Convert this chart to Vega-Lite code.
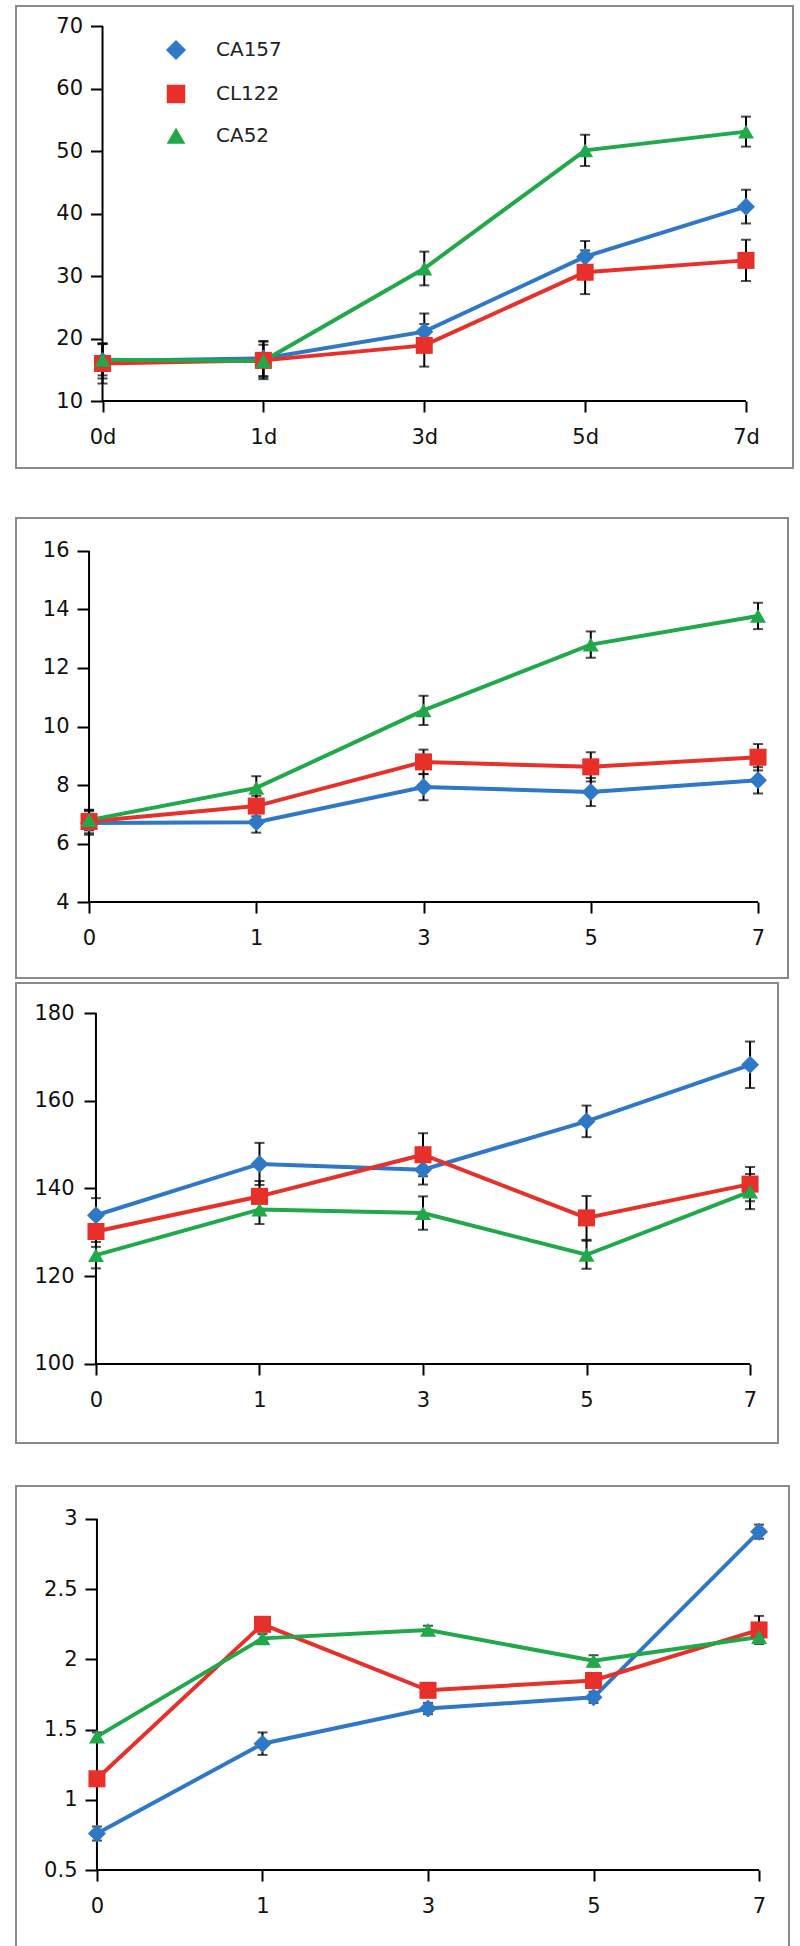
{
  "$schema": "https://vega.github.io/schema/vega-lite/v6.json",
  "padding": {"left": 15, "top": 5, "right": 0, "bottom": 0},
  "background": "white",
  "config": {
    "view": {"stroke": "#8a8a8a", "strokeWidth": 2},
    "font": "DejaVu Sans",
    "axis": {"domain": false, "grid": false, "tickColor": "#000", "tickWidth": 2, "labelFont": "DejaVu Sans", "labelFontSize": 21, "labelColor": "#111", "title": null}
  },
  "datasets": {
    "p1": [
      {"day": "0", "series": "CA157", "value": 16.4, "err": 2.8},
      {"day": "1", "series": "CA157", "value": 16.8, "err": 2.8},
      {"day": "3", "series": "CA157", "value": 21.1, "err": 2.9},
      {"day": "5", "series": "CA157", "value": 33.1, "err": 2.5},
      {"day": "7", "series": "CA157", "value": 41.1, "err": 2.7},
      {"day": "0", "series": "CL122", "value": 16.0, "err": 3.2},
      {"day": "1", "series": "CL122", "value": 16.5, "err": 3.0},
      {"day": "3", "series": "CL122", "value": 18.9, "err": 3.4},
      {"day": "5", "series": "CL122", "value": 30.6, "err": 3.5},
      {"day": "7", "series": "CL122", "value": 32.5, "err": 3.3},
      {"day": "0", "series": "CA52", "value": 16.6, "err": 2.5},
      {"day": "1", "series": "CA52", "value": 16.4, "err": 2.6},
      {"day": "3", "series": "CA52", "value": 31.2, "err": 2.7},
      {"day": "5", "series": "CA52", "value": 50.1, "err": 2.5},
      {"day": "7", "series": "CA52", "value": 53.1, "err": 2.4}
    ],
    "p2": [
      {"day": "0", "series": "CA157", "value": 6.7, "err": 0.4},
      {"day": "1", "series": "CA157", "value": 6.73, "err": 0.36},
      {"day": "3", "series": "CA157", "value": 7.93, "err": 0.45},
      {"day": "5", "series": "CA157", "value": 7.76, "err": 0.48},
      {"day": "7", "series": "CA157", "value": 8.16, "err": 0.45},
      {"day": "0", "series": "CL122", "value": 6.75, "err": 0.4},
      {"day": "1", "series": "CL122", "value": 7.28, "err": 0.35},
      {"day": "3", "series": "CL122", "value": 8.79, "err": 0.42},
      {"day": "5", "series": "CL122", "value": 8.62, "err": 0.5},
      {"day": "7", "series": "CL122", "value": 8.95, "err": 0.45},
      {"day": "0", "series": "CA52", "value": 6.8, "err": 0.35},
      {"day": "1", "series": "CA52", "value": 7.9, "err": 0.4},
      {"day": "3", "series": "CA52", "value": 10.55, "err": 0.5},
      {"day": "5", "series": "CA52", "value": 12.8, "err": 0.45},
      {"day": "7", "series": "CA52", "value": 13.78, "err": 0.45}
    ],
    "p3": [
      {"day": "0", "series": "CA157", "value": 133.9, "err": 3.9},
      {"day": "1", "series": "CA157", "value": 145.6, "err": 4.8},
      {"day": "3", "series": "CA157", "value": 144.3, "err": 3.4},
      {"day": "5", "series": "CA157", "value": 155.3, "err": 3.6},
      {"day": "7", "series": "CA157", "value": 168.2, "err": 5.3},
      {"day": "0", "series": "CL122", "value": 130.2, "err": 3.5},
      {"day": "1", "series": "CL122", "value": 138.2, "err": 3.5},
      {"day": "3", "series": "CL122", "value": 147.7, "err": 4.9},
      {"day": "5", "series": "CL122", "value": 133.3, "err": 5.0},
      {"day": "7", "series": "CL122", "value": 141.0, "err": 3.9},
      {"day": "0", "series": "CA52", "value": 124.8, "err": 3.0},
      {"day": "1", "series": "CA52", "value": 135.2, "err": 3.3},
      {"day": "3", "series": "CA52", "value": 134.4, "err": 3.8},
      {"day": "5", "series": "CA52", "value": 124.9, "err": 3.2},
      {"day": "7", "series": "CA52", "value": 139.3, "err": 4.0}
    ],
    "p4": [
      {"day": "0", "series": "CA157", "value": 0.76, "err": 0.05},
      {"day": "1", "series": "CA157", "value": 1.40, "err": 0.08},
      {"day": "3", "series": "CA157", "value": 1.65, "err": 0.04},
      {"day": "5", "series": "CA157", "value": 1.73, "err": 0.04},
      {"day": "7", "series": "CA157", "value": 2.91, "err": 0.05},
      {"day": "0", "series": "CL122", "value": 1.15, "err": 0.03},
      {"day": "1", "series": "CL122", "value": 2.25, "err": 0.05},
      {"day": "3", "series": "CL122", "value": 1.78, "err": 0.03},
      {"day": "5", "series": "CL122", "value": 1.85, "err": 0.03},
      {"day": "7", "series": "CL122", "value": 2.21, "err": 0.1},
      {"day": "0", "series": "CA52", "value": 1.45, "err": 0.03},
      {"day": "1", "series": "CA52", "value": 2.15, "err": 0.03},
      {"day": "3", "series": "CA52", "value": 2.21, "err": 0.03},
      {"day": "5", "series": "CA52", "value": 1.99, "err": 0.04},
      {"day": "7", "series": "CA52", "value": 2.16, "err": 0.03}
    ],
    "ax1": [{"day": "0", "day2": "7", "value": 10, "value2": 70}],
    "ax2": [{"day": "0", "day2": "7", "value": 4, "value2": 16}],
    "ax3": [{"day": "0", "day2": "7", "value": 100, "value2": 180}],
    "ax4": [{"day": "0", "day2": "7", "value": 0.5, "value2": 3}]
  },
  "spacing": 48,
  "resolve": {"scale": {"x": "independent", "y": "independent", "color": "independent", "shape": "independent", "size": "independent"}, "legend": {"color": "independent", "shape": "independent", "size": "independent"}},
  "vconcat": [
    {
      "width": 777, "height": 462,
      "encoding": {
        "x": {"field": "day", "type": "ordinal", "scale": {"type": "point", "domain": ["0", "1", "3", "5", "7"], "padding": 0.415, "align": 0.648}, "axis": {"title": null, "offset": -67, "tickSize": 11, "labelPadding": 14, "labelAngle": 0, "labelExpr": "datum.label + 'd'"}},
        "y": {"field": "value", "type": "quantitative", "scale": {"domain": [-0.72, 73.2], "nice": false, "zero": false}, "axis": {"title": null, "offset": -86.5, "values": [10, 20, 30, 40, 50, 60, 70], "tickSize": 12, "labelPadding": 8, "format": "~f"}}
      },
      "layer": [
        {"data": {"name": "ax1"}, "mark": {"type": "rule", "color": "#000", "strokeWidth": 2}, "encoding": {"y2": {"field": "value2"}}},
        {"data": {"name": "ax1"}, "mark": {"type": "rule", "color": "#000", "strokeWidth": 2}, "encoding": {"x2": {"field": "day2"}}},
        {"data": {"name": "p1"}, "mark": {"type": "errorbar", "color": "#000", "ticks": {"size": 10, "thickness": 2, "color": "#000"}, "rule": {"strokeWidth": 2, "color": "#000"}}, "encoding": {"yError": {"field": "err"}, "detail": {"field": "series"}}},
        {"data": {"name": "p1"}, "mark": {"type": "line", "strokeWidth": 4}, "encoding": {
          "color": {"field": "series", "type": "nominal", "scale": {"domain": ["CA157", "CL122", "CA52"], "range": ["#2F78C5", "#E8302B", "#20A84A"]},
            "legend": {"orient": "none", "legendX": 150, "legendY": 34, "title": null, "padding": 0, "labelFont": "DejaVu Sans", "labelFontSize": 20, "labelColor": "#222", "labelOffset": 30, "rowPadding": 20}}
        }},
        {"data": {"name": "p1"}, "mark": {"type": "point", "filled": true, "opacity": 1}, "encoding": {
          "color": {"field": "series", "type": "nominal", "scale": {"domain": ["CA157", "CL122", "CA52"], "range": ["#2F78C5", "#E8302B", "#20A84A"]}, "legend": null},
          "shape": {"field": "series", "type": "nominal", "scale": {"domain": ["CA157", "CL122", "CA52"], "range": ["diamond", "square", "triangle-up"]}, "legend": null},
          "size": {"field": "series", "type": "nominal", "scale": {"domain": ["CA157", "CL122", "CA52"], "range": [324, 256, 400]}, "legend": null}
        }}
      ]
    },
    {
      "spacing": 41,
      "resolve": {"scale": {"x": "independent", "y": "independent", "color": "independent", "shape": "independent", "size": "independent"}, "legend": {"color": "independent", "shape": "independent", "size": "independent"}},
      "vconcat": [
        {
          "spacing": 3,
          "resolve": {"scale": {"x": "independent", "y": "independent", "color": "independent", "shape": "independent", "size": "independent"}, "legend": {"color": "independent", "shape": "independent", "size": "independent"}},
          "vconcat": [
            {
              "width": 772, "height": 460,
              "encoding": {
                "x": {"field": "day", "type": "ordinal", "scale": {"type": "point", "domain": ["0", "1", "3", "5", "7"], "padding": 0.308, "align": 0.709}, "axis": {"title": null, "offset": -76, "tickSize": 11, "labelPadding": 14, "labelAngle": 0}},
                "y": {"field": "value", "type": "quantitative", "scale": {"domain": [1.402, 17.128], "nice": false, "zero": false}, "axis": {"title": null, "offset": -73, "values": [4, 6, 8, 10, 12, 14, 16], "tickSize": 12, "labelPadding": 8, "format": "~f"}}
              },
              "layer": [
                {"data": {"name": "ax2"}, "mark": {"type": "rule", "color": "#000", "strokeWidth": 2}, "encoding": {"y2": {"field": "value2"}}},
                {"data": {"name": "ax2"}, "mark": {"type": "rule", "color": "#000", "strokeWidth": 2}, "encoding": {"x2": {"field": "day2"}}},
                {"data": {"name": "p2"}, "mark": {"type": "errorbar", "color": "#000", "ticks": {"size": 10, "thickness": 2, "color": "#000"}, "rule": {"strokeWidth": 2, "color": "#000"}}, "encoding": {"yError": {"field": "err"}, "detail": {"field": "series"}}},
                {"data": {"name": "p2"}, "mark": {"type": "line", "strokeWidth": 4}, "encoding": {"color": {"field": "series", "type": "nominal", "scale": {"domain": ["CA157", "CL122", "CA52"], "range": ["#2F78C5", "#E8302B", "#20A84A"]}, "legend": null}}},
                {"data": {"name": "p2"}, "mark": {"type": "point", "filled": true, "opacity": 1}, "encoding": {
                  "color": {"field": "series", "type": "nominal", "scale": {"domain": ["CA157", "CL122", "CA52"], "range": ["#2F78C5", "#E8302B", "#20A84A"]}, "legend": null},
                  "shape": {"field": "series", "type": "nominal", "scale": {"domain": ["CA157", "CL122", "CA52"], "range": ["diamond", "square", "triangle-up"]}, "legend": null},
                  "size": {"field": "series", "type": "nominal", "scale": {"domain": ["CA157", "CL122", "CA52"], "range": [324, 256, 400]}, "legend": null}
                }}
              ]
            },
            {
              "width": 762, "height": 460,
              "encoding": {
                "x": {"field": "day", "type": "ordinal", "scale": {"type": "point", "domain": ["0", "1", "3", "5", "7"], "padding": 0.33, "align": 0.741}, "axis": {"title": null, "offset": -79, "tickSize": 11, "labelPadding": 14, "labelAngle": 0}},
                "y": {"field": "value", "type": "quantitative", "scale": {"domain": [81.99, 186.84], "nice": false, "zero": false}, "axis": {"title": null, "offset": -80, "values": [100, 120, 140, 160, 180], "tickSize": 12, "labelPadding": 10, "format": "~f"}}
              },
              "layer": [
                {"data": {"name": "ax3"}, "mark": {"type": "rule", "color": "#000", "strokeWidth": 2}, "encoding": {"y2": {"field": "value2"}}},
                {"data": {"name": "ax3"}, "mark": {"type": "rule", "color": "#000", "strokeWidth": 2}, "encoding": {"x2": {"field": "day2"}}},
                {"data": {"name": "p3"}, "mark": {"type": "errorbar", "color": "#000", "ticks": {"size": 10, "thickness": 2, "color": "#000"}, "rule": {"strokeWidth": 2, "color": "#000"}}, "encoding": {"yError": {"field": "err"}, "detail": {"field": "series"}}},
                {"data": {"name": "p3"}, "mark": {"type": "line", "strokeWidth": 4}, "encoding": {"color": {"field": "series", "type": "nominal", "scale": {"domain": ["CA157", "CL122", "CA52"], "range": ["#2F78C5", "#E8302B", "#20A84A"]}, "legend": null}}},
                {"data": {"name": "p3"}, "mark": {"type": "point", "filled": true, "opacity": 1}, "encoding": {
                  "color": {"field": "series", "type": "nominal", "scale": {"domain": ["CA157", "CL122", "CA52"], "range": ["#2F78C5", "#E8302B", "#20A84A"]}, "legend": null},
                  "shape": {"field": "series", "type": "nominal", "scale": {"domain": ["CA157", "CL122", "CA52"], "range": ["diamond", "square", "triangle-up"]}, "legend": null},
                  "size": {"field": "series", "type": "nominal", "scale": {"domain": ["CA157", "CL122", "CA52"], "range": [324, 256, 400]}, "legend": null}
                }}
              ]
            }
          ]
        },
        {
          "width": 773, "height": 461,
          "encoding": {
            "x": {"field": "day", "type": "ordinal", "scale": {"type": "point", "domain": ["0", "1", "3", "5", "7"], "padding": 0.335, "align": 0.73}, "axis": {"title": null, "offset": -77, "tickSize": 11, "labelPadding": 14, "labelAngle": 0}},
            "y": {"field": "value", "type": "quantitative", "scale": {"domain": [-0.048, 3.235], "nice": false, "zero": false}, "axis": {"title": null, "offset": -81, "values": [0.5, 1, 1.5, 2, 2.5, 3], "tickSize": 12, "labelPadding": 8, "format": "~f"}}
          },
          "layer": [
            {"data": {"name": "ax4"}, "mark": {"type": "rule", "color": "#000", "strokeWidth": 2}, "encoding": {"y2": {"field": "value2"}}},
            {"data": {"name": "ax4"}, "mark": {"type": "rule", "color": "#000", "strokeWidth": 2}, "encoding": {"x2": {"field": "day2"}}},
            {"data": {"name": "p4"}, "mark": {"type": "errorbar", "color": "#000", "ticks": {"size": 10, "thickness": 2, "color": "#000"}, "rule": {"strokeWidth": 2, "color": "#000"}}, "encoding": {"yError": {"field": "err"}, "detail": {"field": "series"}}},
            {"data": {"name": "p4"}, "mark": {"type": "line", "strokeWidth": 4}, "encoding": {"color": {"field": "series", "type": "nominal", "scale": {"domain": ["CA157", "CL122", "CA52"], "range": ["#2F78C5", "#E8302B", "#20A84A"]}, "legend": null}}},
            {"data": {"name": "p4"}, "mark": {"type": "point", "filled": true, "opacity": 1}, "encoding": {
              "color": {"field": "series", "type": "nominal", "scale": {"domain": ["CA157", "CL122", "CA52"], "range": ["#2F78C5", "#E8302B", "#20A84A"]}, "legend": null},
              "shape": {"field": "series", "type": "nominal", "scale": {"domain": ["CA157", "CL122", "CA52"], "range": ["diamond", "square", "triangle-up"]}, "legend": null},
              "size": {"field": "series", "type": "nominal", "scale": {"domain": ["CA157", "CL122", "CA52"], "range": [324, 256, 400]}, "legend": null}
            }}
          ]
        }
      ]
    }
  ]
}
